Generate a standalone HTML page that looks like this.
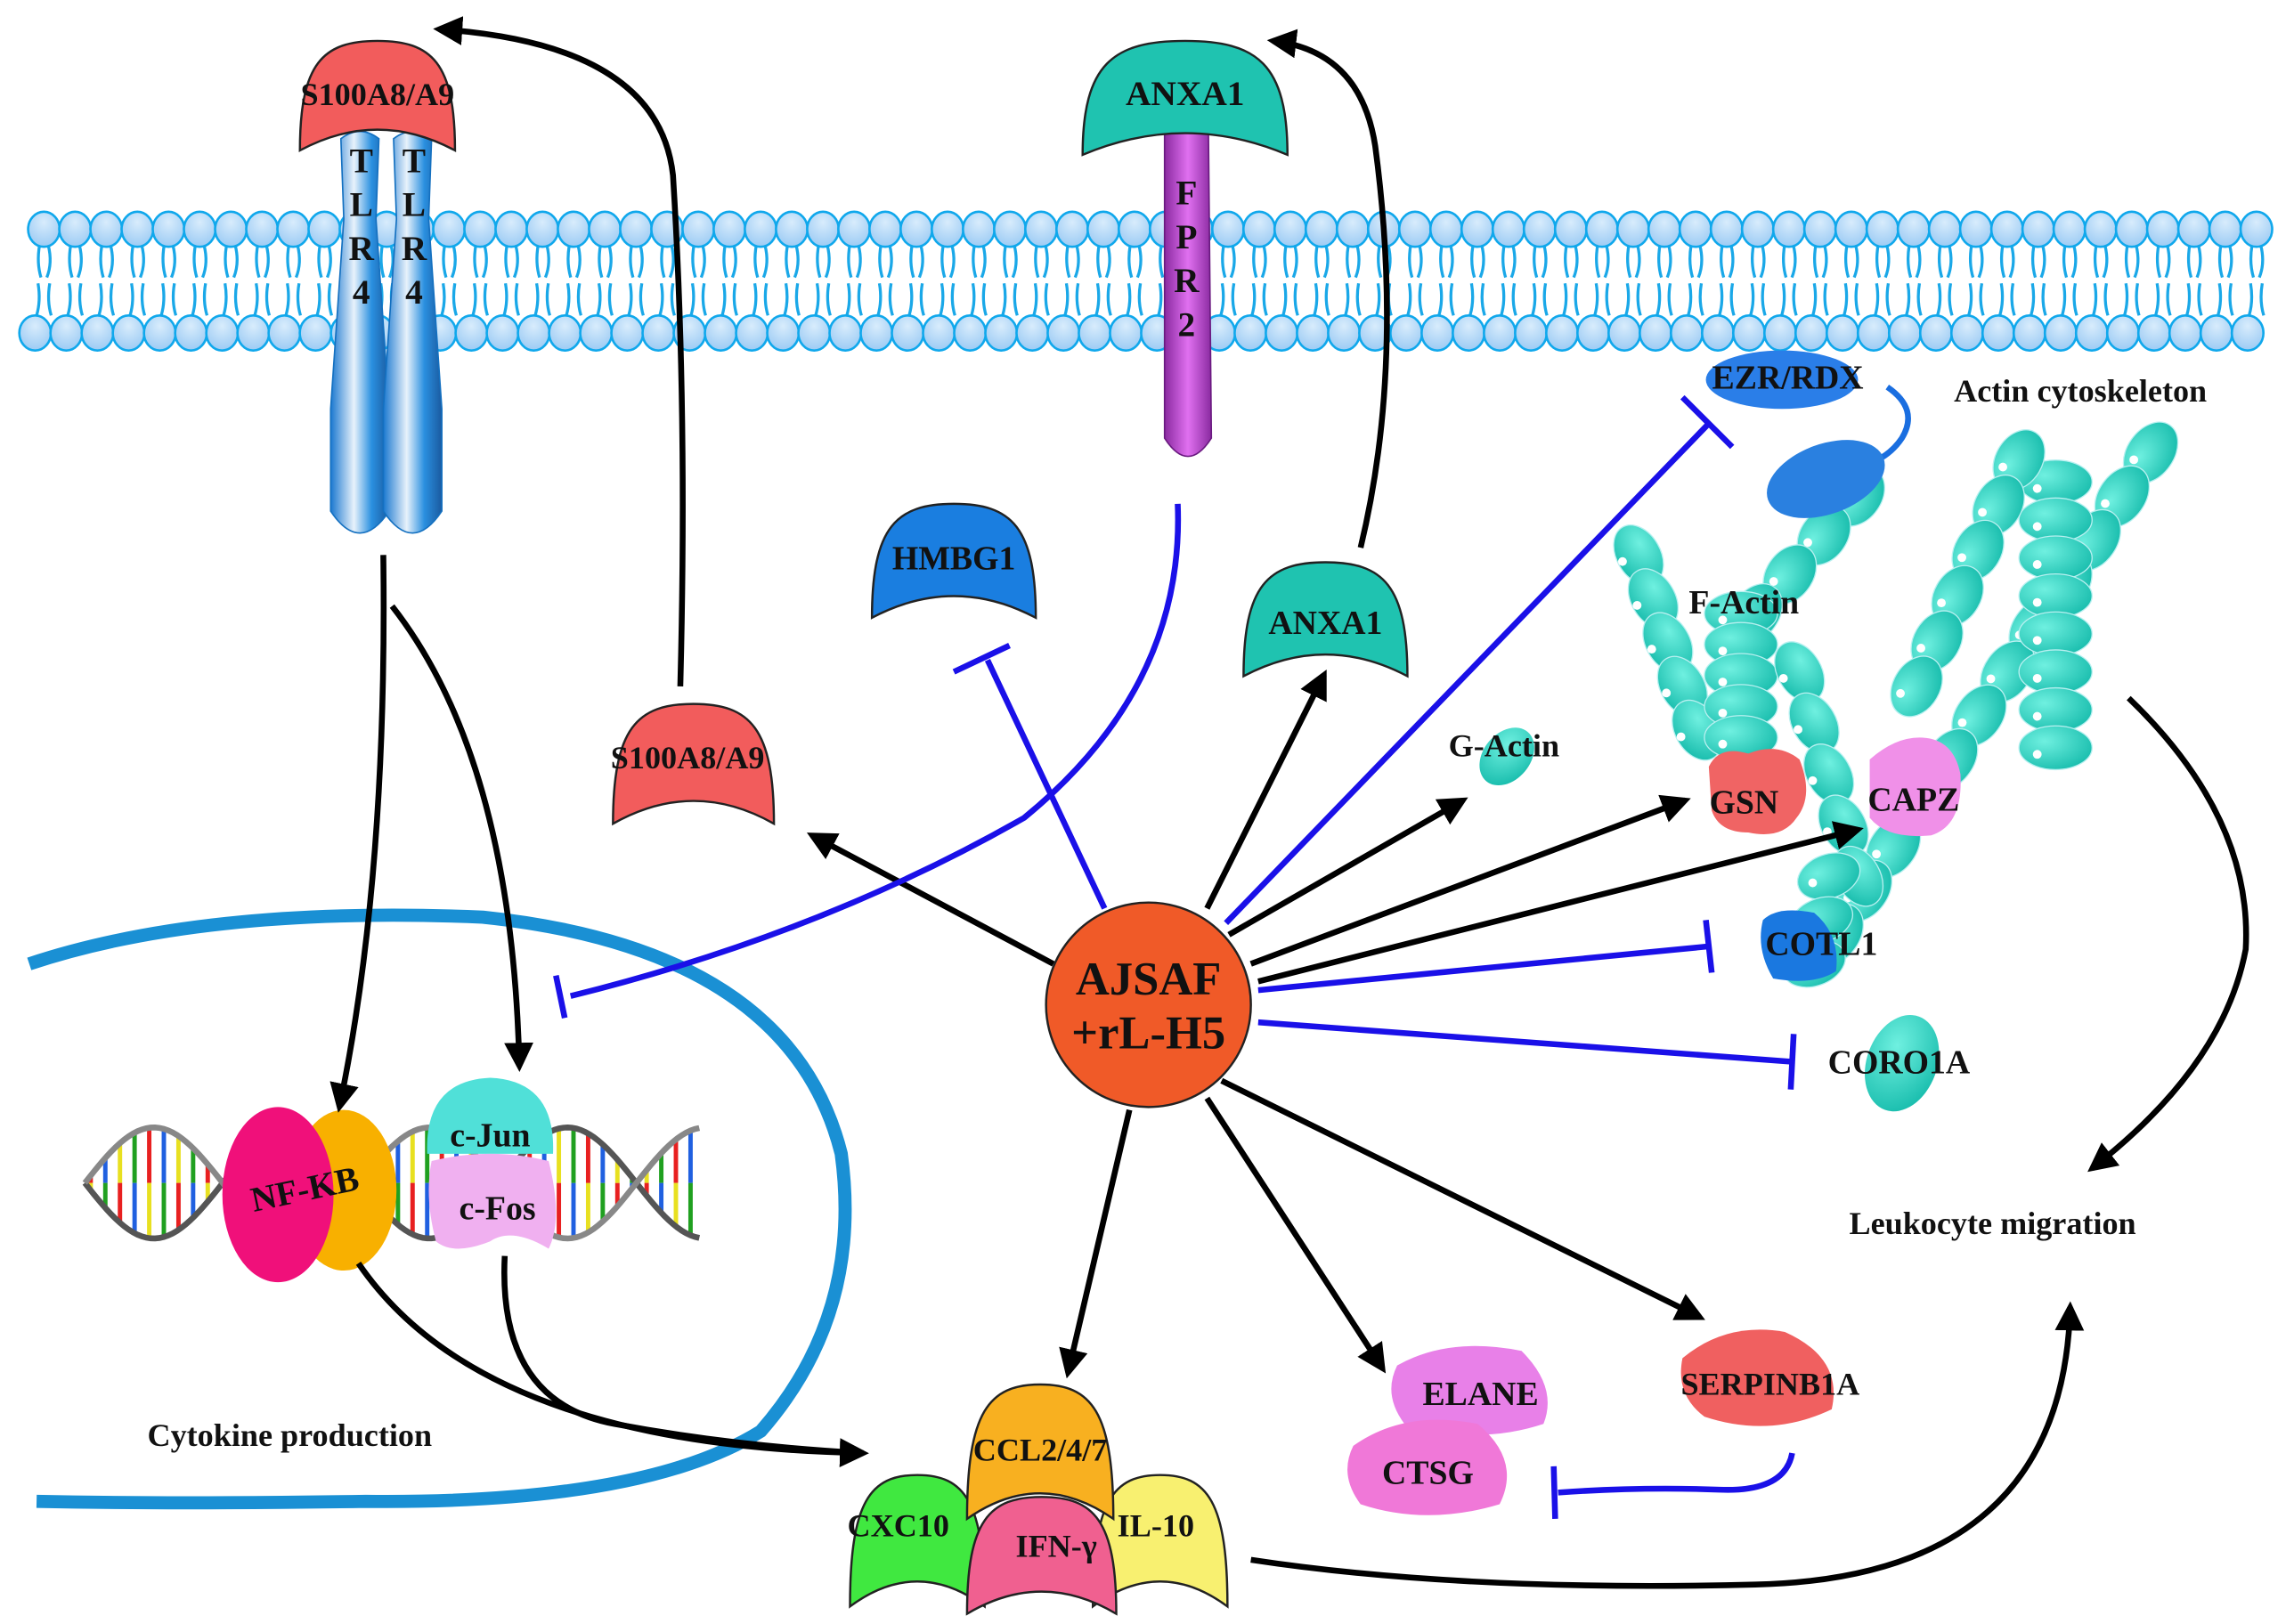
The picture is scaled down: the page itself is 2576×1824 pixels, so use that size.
<!DOCTYPE html>
<html><head><meta charset="utf-8"><style>
html,body{margin:0;padding:0;background:#fff;}
svg{display:block;}
text{font-family:"Liberation Serif",serif;font-weight:bold;fill:#111;}
</style></head><body>
<svg id="s" width="2576" height="1824" viewBox="0 0 1568 1112" preserveAspectRatio="none" xmlns="http://www.w3.org/2000/svg">
<defs>
<marker id="ah" viewBox="0 0 10 10" refX="8" refY="5" markerWidth="5" markerHeight="5" orient="auto" markerUnits="strokeWidth"><path d="M0,0 L10,5 L0,10 Z" fill="#000"/></marker>
<radialGradient id="memg" cx="0.5" cy="0.3" r="0.7"><stop offset="0" stop-color="#d8ecfc"/><stop offset="1" stop-color="#9ccbf4"/></radialGradient>
<linearGradient id="tlr" x1="0" x2="1"><stop offset="0" stop-color="#1a78d0"/><stop offset="0.4" stop-color="#e8f2fb"/><stop offset="0.7" stop-color="#2a90e0"/><stop offset="1" stop-color="#1a5aa0"/></linearGradient>
<linearGradient id="fpr" x1="0" x2="1"><stop offset="0" stop-color="#8a2aa0"/><stop offset="0.5" stop-color="#e070f0"/><stop offset="1" stop-color="#8a2aa0"/></linearGradient>
<radialGradient id="act" cx="0.35" cy="0.35" r="0.8"><stop offset="0" stop-color="#6ff0e0"/><stop offset="1" stop-color="#10b8a8"/></radialGradient>
</defs>
<g id="g"></g>
</svg>
<script>
var g=document.getElementById('g'),h='';
function add(s){h+=s;}
add('<g stroke="#1aa8e8" stroke-width="2" fill="none">');
for(var x=30;x<1560;x+=21.3){
 add('<path d="M'+(x-3)+',168 q-2,12 1,22 M'+(x+3)+',168 q3,12 -1,22 M'+(x-4)+',194 q2,12 -1,22 M'+(x+4)+',194 q-2,12 1,22"/>');
}
add('</g>');
for(var x=30;x<1560;x+=21.3){
 add('<ellipse cx="'+x+'" cy="157" rx="10.8" ry="12" fill="url(#memg)" stroke="#10a8ec" stroke-width="1.6"/>');
 add('<ellipse cx="'+(x-6)+'" cy="228" rx="10.8" ry="12" fill="url(#memg)" stroke="#10a8ec" stroke-width="1.6"/>');
}
[246,282].forEach(function(cx){
 add('<path d="M'+(cx-13)+',95 Q'+cx+',85 '+(cx+13)+',95 L'+(cx+11)+',150 Q'+(cx+16)+',220 '+(cx+20)+',280 L'+(cx+20)+',350 Q'+cx+',380 '+(cx-20)+',350 L'+(cx-20)+',280 Q'+(cx-16)+',220 '+(cx-11)+',150 Z" fill="url(#tlr)" stroke="#1470c0" stroke-width="1"/>');
 ['T','L','R','4'].forEach(function(c,i){add('<text x="'+(cx+1)+'" y="'+(118+i*30)+'" font-size="24" text-anchor="middle">'+c+'</text>');});
});
function cap(cx,y,w,hh,fill,stroke){
 return '<path d="M'+(cx-w/2)+','+(y+hh)+' C'+(cx-w/2)+','+(y+hh*0.2)+' '+(cx-w*0.35)+','+y+' '+cx+','+y+' C'+(cx+w*0.35)+','+y+' '+(cx+w/2)+','+(y+hh*0.2)+' '+(cx+w/2)+','+(y+hh)+' Q'+cx+','+(y+hh*0.62)+' '+(cx-w/2)+','+(y+hh)+' Z" fill="'+fill+'" stroke="'+(stroke||'#222')+'" stroke-width="1.5"/>';
}
add('<path d="M796,90 L826,90 L828,300 Q812,325 796,300 Z" fill="url(#fpr)" stroke="#6a1a80" stroke-width="1"/>');
['F','P','R','2'].forEach(function(c,i){add('<text x="811" y="'+(140+i*30)+'" font-size="24" text-anchor="middle">'+c+'</text>');});
add(cap(258,28,106,75,'#f25c5c'));
add('<text x="258" y="72" font-size="22" text-anchor="middle">S100A8/A9</text>');
add(cap(810,28,140,78,'#1fc3b0'));
add('<text x="810" y="72" font-size="24" text-anchor="middle">ANXA1</text>');
add(cap(652,345,112,78,'#1a7ee0'));
add('<text x="652" y="390" font-size="23" text-anchor="middle">HMBG1</text>');
add(cap(906,385,112,78,'#1fc3b0'));
add('<text x="906" y="434" font-size="23" text-anchor="middle">ANXA1</text>');
add(cap(474,482,110,82,'#f25c5c'));
add('<text x="470" y="526" font-size="22" text-anchor="middle">S100A8/A9</text>');
add('<ellipse cx="1030" cy="518" rx="16" ry="22" fill="url(#act)" transform="rotate(40 1030 518)"/>');
add('<text x="1028" y="518" font-size="22" text-anchor="middle">G-Actin</text>');
function chain(x1,y1,x2,y2,n,rx,ry,rot){
 for(var i=0;i<n;i++){var t=n>1?i/(n-1):0;var x=x1+(x2-x1)*t,y=y1+(y2-y1)*t;
  add('<ellipse cx="'+x+'" cy="'+y+'" rx="'+rx+'" ry="'+ry+'" fill="url(#act)" stroke="#b8f0f0" stroke-width="0.8" transform="rotate('+rot+' '+x+' '+y+')"/><circle cx="'+(x-rx*0.5)+'" cy="'+(y+ry*0.3)+'" r="3" fill="#fff"/>');}
}
chain(1470,310,1255,640,12,23,16,-55);
chain(1405,330,1405,512,8,25,15,0);
chain(1380,315,1310,470,6,22,16,-60);
chain(1270,340,1200,420,4,22,16,-55);
chain(1120,380,1160,500,5,22,15,60);
chain(1190,420,1190,505,5,25,15,0);
chain(1230,460,1270,600,5,22,15,60);
chain(1250,600,1240,660,3,22,15,-20);
add('<path d="M1290,265 Q1312,280 1300,300 Q1290,315 1270,320" fill="none" stroke="#1a6ee0" stroke-width="4"/>');
add('<ellipse cx="1218" cy="260" rx="52" ry="20" fill="#2a7ee8"/>');
add('<ellipse cx="1248" cy="328" rx="42" ry="24" fill="#2a80e0" transform="rotate(-20 1248 328)"/>');
add('<text x="1222" y="266" font-size="23" text-anchor="middle">EZR/RDX</text>');
add('<text x="1422" y="275" font-size="22" text-anchor="middle">Actin cytoskeleton</text>');
add('<text x="1192" y="420" font-size="23" text-anchor="middle">F-Actin</text>');
add('<path d="M1168,525 Q1175,510 1195,516 Q1215,508 1230,520 Q1240,545 1228,560 Q1218,575 1195,570 Q1175,570 1170,555 Z" fill="#f06464"/>');
add('<text x="1192" y="557" font-size="23" text-anchor="middle">GSN</text>');
add('<path d="M1278,520 Q1295,505 1312,505 Q1335,505 1340,530 Q1342,565 1320,572 Q1290,575 1278,560 Z" fill="#f090e8"/>');
add('<text x="1308" y="555" font-size="23" text-anchor="middle">CAPZ</text>');
add('<path d="M1205,630 Q1215,620 1240,625 Q1258,640 1255,665 Q1240,675 1212,670 Q1200,650 1205,630 Z" fill="#1a78e0"/>');
add('<text x="1245" y="654" font-size="23" text-anchor="middle">COTL1</text>');
add('<ellipse cx="1300" cy="728" rx="24" ry="34" fill="url(#act)" transform="rotate(20 1300 728)"/>');
add('<text x="1298" y="735" font-size="23" text-anchor="middle">CORO1A</text>');
add('<text x="1362" y="845" font-size="22" text-anchor="middle">Leukocyte migration</text>');
add('<path d="M20,660 Q140,620 330,628 Q540,650 575,790 Q590,900 520,980 Q440,1030 250,1028 Q120,1030 25,1028" fill="none" stroke="#1a90d4" stroke-width="9"/>');
(function(){var s1='',s2='';for(var x=58;x<=480;x+=3){var y1=810+38*Math.sin((x-58)/30),y2=810-38*Math.sin((x-58)/30);s1+=(x==58?'M':'L')+x+','+y1;s2+=(x==58?'M':'L')+x+','+y2;}
 var cols=['#e82020','#2060e0','#e8e020','#20a020'];
 for(var x=62,i=0;x<480;x+=10,i++){var a=38*Math.sin((x-58)/30);add('<line x1="'+x+'" y1="'+(810-a)+'" x2="'+x+'" y2="'+(810)+'" stroke="'+cols[i%4]+'" stroke-width="3"/><line x1="'+x+'" y1="810" x2="'+x+'" y2="'+(810+a)+'" stroke="'+cols[(i+2)%4]+'" stroke-width="3"/>');}
 add('<path d="'+s1+'" fill="none" stroke="#555" stroke-width="4"/><path d="'+s2+'" fill="none" stroke="#888" stroke-width="4"/>');})();
add('<ellipse cx="235" cy="815" rx="36" ry="55" fill="#f8b000"/>');
add('<ellipse cx="190" cy="818" rx="38" ry="60" fill="#f0107a"/>');
add('<text x="210" y="822" font-size="24" text-anchor="middle" transform="rotate(-12 210 822)">NF-KB</text>');
add('<path d="M292,790 Q290,740 335,738 Q380,740 378,790 Z" fill="#50e0d8"/>');
add('<text x="335" y="785" font-size="23" text-anchor="middle">c-Jun</text>');
add('<path d="M295,795 Q335,785 375,795 Q385,835 375,855 Q350,840 335,850 Q310,860 298,850 Q290,820 295,795 Z" fill="#f0b0f0"/>');
add('<text x="340" y="835" font-size="23" text-anchor="middle">c-Fos</text>');
add('<text x="198" y="990" font-size="22" text-anchor="middle">Cytokine production</text>');
add(cap(627,1010,92,90,'#40e840'));
add(cap(793,1010,92,90,'#f8f070'));
add(cap(711,948,100,92,'#f8b020'));
add(cap(712,1025,102,80,'#f06090'));
add('<text x="711" y="1000" font-size="22" text-anchor="middle">CCL2/4/7</text>');
add('<text x="614" y="1052" font-size="22" text-anchor="middle">CXC10</text>');
add('<text x="790" y="1052" font-size="22" text-anchor="middle">IL-10</text>');
add('<text x="722" y="1066" font-size="22" text-anchor="middle">IFN-γ</text>');
add('<path d="M955,935 Q990,915 1040,925 Q1065,950 1055,975 Q1010,990 960,975 Q945,955 955,935 Z" fill="#e880e8"/>');
add('<text x="1012" y="962" font-size="23" text-anchor="middle">ELANE</text>');
add('<path d="M925,990 Q960,965 1010,975 Q1040,1000 1025,1030 Q975,1045 930,1030 Q915,1010 925,990 Z" fill="#f078d8"/>');
add('<text x="976" y="1016" font-size="23" text-anchor="middle">CTSG</text>');
add('<path d="M1150,930 Q1180,905 1220,912 Q1260,930 1252,965 Q1210,985 1165,970 Q1145,955 1150,930 Z" fill="#f06060"/>');
add('<text x="1210" y="955" font-size="22" text-anchor="middle">SERPINB1A</text>');
var A='fill="none" stroke="#000" stroke-width="4" marker-end="url(#ah)"';
add('<path d="M262,380 Q265,600 232,758" '+A+'/>');
add('<path d="M268,415 Q350,520 355,730" '+A+'/>');
add('<path d="M465,470 Q470,280 460,120 Q450,30 300,20" '+A+'/>');
add('<path d="M930,375 Q960,250 940,100 Q930,35 870,28" '+A+'/>');
add('<path d="M245,865 Q330,990 590,995" '+A+'/>');
add('<path d="M345,860 Q340,960 420,975 Q500,990 590,995" fill="none" stroke="#000" stroke-width="4"/>');
add('<path d="M855,1068 Q1000,1090 1200,1085 Q1410,1080 1415,895" '+A+'/>');
add('<path d="M1455,478 Q1540,560 1535,650 Q1520,730 1430,800" '+A+'/>');
[[720,660,555,572],[825,622,905,462],[840,640,1000,548],[855,660,1152,548],[860,672,1270,568],[835,740,1162,902],[825,752,945,937],[772,760,730,940]].forEach(function(p){add('<line x1="'+p[0]+'" y1="'+p[1]+'" x2="'+p[2]+'" y2="'+p[3]+'" stroke="#000" stroke-width="4" marker-end="url(#ah)"/>');});
var B='fill="none" stroke="#1a10e8" stroke-width="4"';
add('<path d="M805,345 Q810,470 700,560 Q560,640 390,682" '+B+'/><line x1="380" y1="668" x2="386" y2="697" '+B+'/>');
add('<line x1="755" y1="622" x2="675" y2="452" '+B+'/><line x1="652" y1="460" x2="690" y2="442" '+B+'/>');
add('<line x1="838" y1="632" x2="1168" y2="290" '+B+'/><line x1="1150" y1="272" x2="1184" y2="306" '+B+'/>');
add('<line x1="860" y1="678" x2="1168" y2="648" '+B+'/><line x1="1166" y1="630" x2="1170" y2="666" '+B+'/>');
add('<line x1="860" y1="700" x2="1225" y2="727" '+B+'/><line x1="1226" y1="708" x2="1224" y2="746" '+B+'/>');
add('<path d="M1225,995 Q1220,1022 1175,1020 Q1120,1018 1065,1022" '+B+'/><line x1="1062" y1="1004" x2="1063" y2="1040" '+B+'/>');
add('<circle cx="785" cy="688" r="70" fill="#f05a28" stroke="#222" stroke-width="1.5"/>');
add('<text x="785" y="681" font-size="32" text-anchor="middle">AJSAF</text><text x="785" y="718" font-size="32" text-anchor="middle">+rL-H5</text>');
g.innerHTML=h;
</script>
</body></html>
